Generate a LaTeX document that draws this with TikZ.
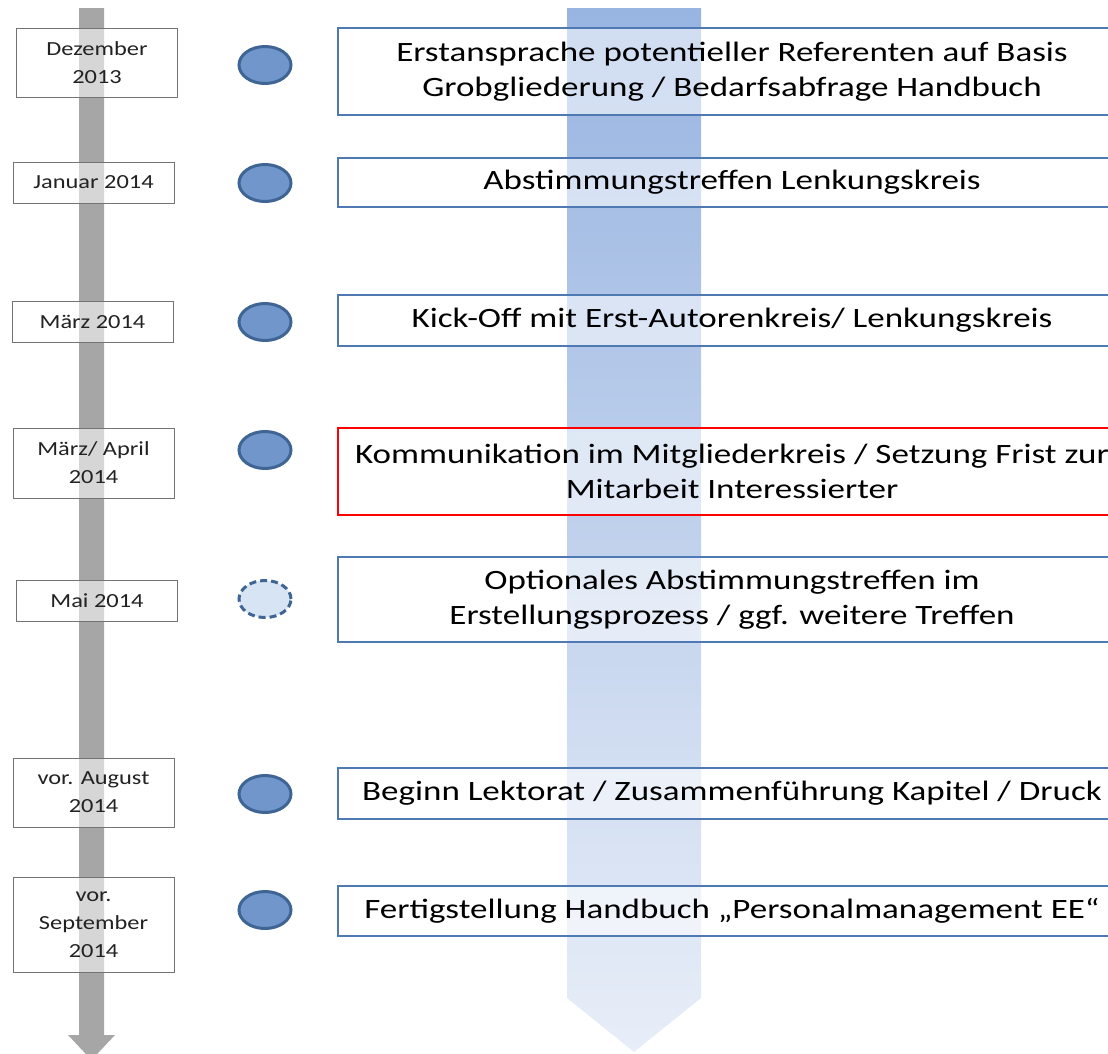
\documentclass[tikz,border=0pt]{standalone}
\usepackage{fontspec}
\setmainfont{Carlito}
\newfontfamily\datefont[FakeStretch=1.22]{Carlito}
\newfontfamily\taskfont[FakeStretch=1.25]{Carlito}
\usetikzlibrary{shapes.geometric}
\definecolor{railgrey}{HTML}{A6A6A6}
\definecolor{bartop}{HTML}{98B4E1}
\definecolor{barbottom}{HTML}{E8EEF8}
\definecolor{dotfill}{HTML}{7096CB}
\definecolor{dotline}{HTML}{3F6595}
\definecolor{optfill}{HTML}{D7E4F4}
\definecolor{taskline}{HTML}{4F79B3}
\definecolor{ink}{HTML}{222222}
\tikzset{
  datebox/.style={draw=black!55,line width=0.9pt,fill=white,fill opacity=0.55,text opacity=1,
    minimum width=161pt,align=center,font=\datefont\fontsize{20}{28}\selectfont,text=ink,inner sep=0pt},
  taskbox/.style={draw=taskline,line width=1.3pt,fill=white,fill opacity=0.55,text opacity=1,
    minimum width=788pt,align=center,font=\taskfont\fontsize{28}{35}\selectfont,text=black,inner sep=0pt},
  dot/.style={ellipse,draw=dotline,line width=3pt,fill=dotfill,
    minimum width=52pt,minimum height=37pt,inner sep=0pt}
}

\begin{document}
\begin{tikzpicture}[x=1pt,y=-1pt]
  \useasboundingbox (0,0) rectangle (1108,1053);
  \clip (0,0) rectangle (1108,1053);
  \fill[railgrey] (79,8) -- (104,8) -- (104,1035) -- (115,1035) -- (91.5,1060)
    -- (68,1035) -- (79,1035) -- cycle;
  \shade[top color=bartop,bottom color=barbottom] (567,8) -- (701,8) -- (701,998)
    -- (634,1052) -- (567,998) -- cycle;

  \node[datebox,minimum height=69pt] (dez) at (97,62.5) {Dezember\\2013};
  \node[datebox,minimum height=41pt] (jan) at (93.5,182.5) {Januar 2014};
  \node[datebox,minimum height=41pt] (mar) at (92.5,321.5) {März 2014};
  \node[datebox,minimum height=70pt] (marapr) at (93.5,463) {März/ April\\2014};
  \node[datebox,minimum height=41pt] (mai) at (97,600.5) {Mai 2014};
  \node[datebox,minimum height=69pt] (aug) at (93.5,792.5) {vor. August\\2014};
  \node[datebox,minimum height=95pt] (sep) at (93.5,924.5) {vor.\\September\\2014};

  \node[dot] (d1) at (265,65) {};
  \node[dot] (d2) at (265,183) {};
  \node[dot] (d3) at (265,322) {};
  \node[dot] (d4) at (265,450) {};
  \node[dot,fill=optfill,dash pattern=on 7pt off 4pt] (d5) at (265,599) {};
  \node[dot] (d6) at (265,794) {};
  \node[dot] (d7) at (265,910) {};

  \node[taskbox,minimum height=87pt] (t1) at (732,71.5)
    {Erstansprache potentieller Referenten auf Basis\\Grobgliederung / Bedarfsabfrage Handbuch};
  \node[taskbox,minimum height=49pt] (t2) at (732,182.5) {Abstimmungstreffen Lenkungskreis};
  \node[taskbox,minimum height=51pt] (t3) at (732,320.5) {Kick-Off mit Erst-Autorenkreis/ Lenkungskreis};
  \node[taskbox,draw=red,line width=2.2pt,minimum height=87pt] (t4) at (732,471.5)
    {Kommunikation im Mitgliederkreis / Setzung Frist zur\\Mitarbeit Interessierter};
  \node[taskbox,minimum height=85pt] (t5) at (732,599.5)
    {Optionales Abstimmungstreffen im\\Erstellungsprozess / ggf. weitere Treffen};
  \node[taskbox,minimum height=51pt] (t6) at (732,793.5)
    {Beginn Lektorat / Zusammenführung Kapitel / Druck};
  \node[taskbox,minimum height=50pt] (t7) at (732,911)
    {Fertigstellung Handbuch „Personalmanagement EE“};
\end{tikzpicture}
\end{document}
